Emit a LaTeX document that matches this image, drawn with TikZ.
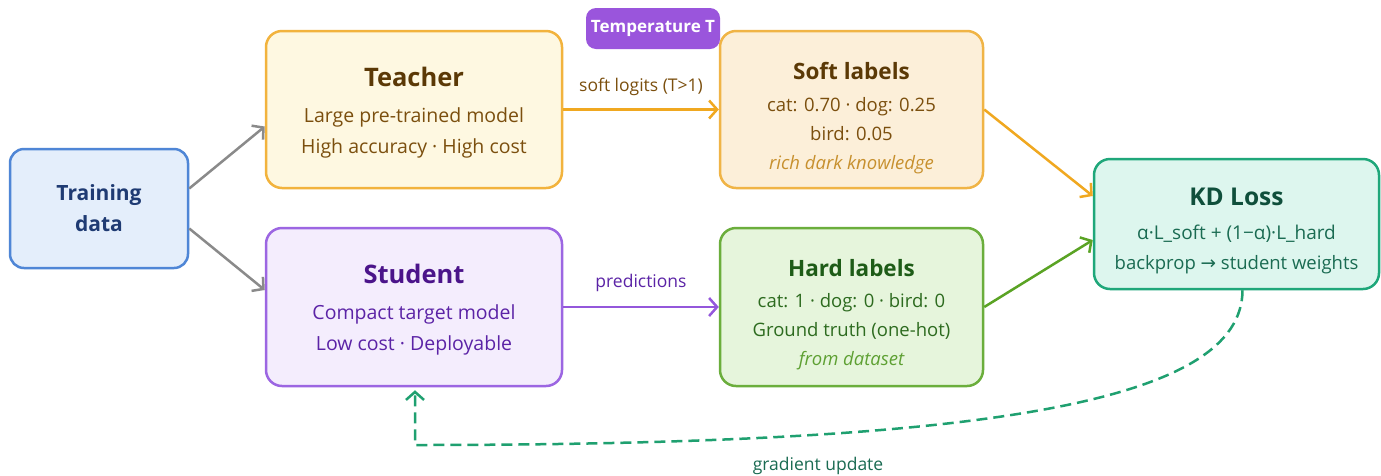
\documentclass[tikz,border=0pt]{standalone}
\usepackage{fontspec}
\setmainfont{Open Sans}
\newfontfamily\symfont{DejaVu Sans}
\usetikzlibrary{arrows.meta,calc}

\definecolor{trainfill}{HTML}{E4EEFB}
\definecolor{traindraw}{HTML}{4F86D6}
\definecolor{traintext}{HTML}{1F3B73}
\definecolor{teachfill}{HTML}{FEF8E1}
\definecolor{teachdraw}{HTML}{F2B33D}
\definecolor{browntitle}{HTML}{5B3906}
\definecolor{brownbody}{HTML}{7B4F0E}
\definecolor{softfill}{HTML}{FCEFD9}
\definecolor{softdraw}{HTML}{F0B446}
\definecolor{softital}{HTML}{C7902E}
\definecolor{studfill}{HTML}{F4EDFD}
\definecolor{studdraw}{HTML}{9C66E2}
\definecolor{studtitle}{HTML}{4B148A}
\definecolor{studbody}{HTML}{5B23A6}
\definecolor{hardfill}{HTML}{E6F5DC}
\definecolor{harddraw}{HTML}{6BAE3C}
\definecolor{hardtitle}{HTML}{1E5C17}
\definecolor{hardbody}{HTML}{2D6B1F}
\definecolor{hardital}{HTML}{5EA033}
\definecolor{kdfill}{HTML}{DDF6EE}
\definecolor{kddraw}{HTML}{1FA77A}
\definecolor{kdtitle}{HTML}{0F4F3B}
\definecolor{kdbody}{HTML}{1A6B52}
\definecolor{tempfill}{HTML}{9A55DC}
\definecolor{grayarrow}{HTML}{8A8A8A}
\definecolor{orangearrow}{HTML}{F0A820}
\definecolor{purplearrow}{HTML}{9457DB}
\definecolor{greenarrow}{HTML}{5AA324}
\definecolor{dasharrow}{HTML}{1FA070}

\tikzset{
  card/.style={rounded corners=16pt, line width=2.5pt, inner sep=0pt},
  cardtext/.style={align=center, inner sep=0pt, font=\fontsize{19.5}{31}\selectfont},
  flow/.style={line width=2.5pt, -{Straight Barb[length=8pt,width=18pt,line width=2.5pt]}},
  edgelabel/.style={font=\fontsize{17.5}{20}\selectfont, inner sep=0pt},
}

\begin{document}
\begin{tikzpicture}[x=1pt,y=-1pt]
\useasboundingbox[fill=white] (0,0) rectangle (1381,475);

% input data
\node[card, fill=trainfill, draw=traindraw, text=traintext, rounded corners=14pt,
      minimum width=178pt, minimum height=119pt, align=center,
      font=\fontsize{21}{31}\selectfont\bfseries] (train) at (99,208.5)
  {Training\\data};

% teacher and student models
\node[card, fill=teachfill, draw=teachdraw, minimum width=296pt, minimum height=157pt]
  (teacher) at (414,109.5) {};
\node[cardtext, text=brownbody] (teachertxt) at (414,113)
  {{\fontsize{25.5}{31}\selectfont\bfseries\color{browntitle}Teacher}\\[5pt]
   Large pre-trained model\\High accuracy · High cost};

\node[card, fill=studfill, draw=studdraw, minimum width=296pt, minimum height=158pt]
  (student) at (414,307) {};
\node[cardtext, text=studbody] (studenttxt) at (414,310)
  {{\fontsize{25.5}{31}\selectfont\bfseries\color{studtitle}Student}\\[5pt]
   Compact target model\\Low cost · Deployable};

% label boxes
\node[card, fill=softfill, draw=softdraw, minimum width=263pt, minimum height=157pt]
  (soft) at (851.5,109.5) {};
\node[cardtext, text=brownbody, font=\fontsize{18.5}{29}\selectfont] (softtxt) at (851.5,118)
  {{\fontsize{22.5}{29}\selectfont\bfseries\color{browntitle}Soft labels}\\[3pt]
   cat: 0.70 · dog: 0.25\\bird: 0.05\\{\itshape\color{softital}rich dark knowledge}};

\node[card, fill=hardfill, draw=harddraw, minimum width=263pt, minimum height=158pt]
  (hard) at (851.5,307) {};
\node[cardtext, text=hardbody, font=\fontsize{18.5}{29}\selectfont] (hardtxt) at (851.5,315)
  {{\fontsize{22.5}{29}\selectfont\bfseries\color{hardtitle}Hard labels}\\[2pt]
   cat: 1 · dog: 0 · bird: 0\\Ground truth (one-hot)\\{\itshape\color{hardital}from dataset}};

% distillation loss
\node[card, fill=kdfill, draw=kddraw, minimum width=285pt, minimum height=130pt]
  (kd) at (1236.5,224) {};
\node[cardtext, text=kdbody, font=\fontsize{19}{30}\selectfont] (kdtxt) at (1236.5,230.5)
  {{\fontsize{24.5}{30}\selectfont\bfseries\color{kdtitle}KD Loss}\\[4pt]
   α·L\_soft + (1−α)·L\_hard\\{\fontsize{18.5}{30}\selectfont backprop {\symfont →} student weights}};

% temperature tag
\node[fill=tempfill, text=white, rounded corners=10pt, inner sep=0pt,
      minimum width=134pt, minimum height=41pt,
      font=\fontsize{17}{20}\selectfont\bfseries] (temp) at (653,28.5) {Temperature T};

% data flow
\draw[flow, grayarrow] ([yshift=20pt]train.east) -- ([yshift=-17pt]teacher.west);
\draw[flow, grayarrow] ([yshift=-20pt]train.east) -- ([yshift=17pt]student.west);

\draw[flow, orangearrow] (teacher.east) -- (soft.west)
  node[midway, above=13pt, edgelabel, text=brownbody] (softlogits) {soft logits (T>1)};
\draw[flow, purplearrow] (student.east) -- (hard.west)
  node[midway, above=14pt, edgelabel, text=studbody] (preds) {predictions};

\draw[flow, orangearrow] (soft.east) -- ([yshift=28pt]kd.west);
\draw[flow, greenarrow] (hard.east) -- ([yshift=-16pt]kd.west);

% feedback to the student
\coordinate (gcorner) at (415,445);
\draw[flow, dasharrow, dash pattern=on 11pt off 6pt]
  ([xshift=6pt]kd.south) .. controls (1242,400) and (1000,445) .. (gcorner)
  -- ([yshift=-3pt]gcorner |- student.south);
\node[edgelabel, text=kdbody] (gradlabel) at (818,466) {gradient update};

\end{tikzpicture}
\end{document}
